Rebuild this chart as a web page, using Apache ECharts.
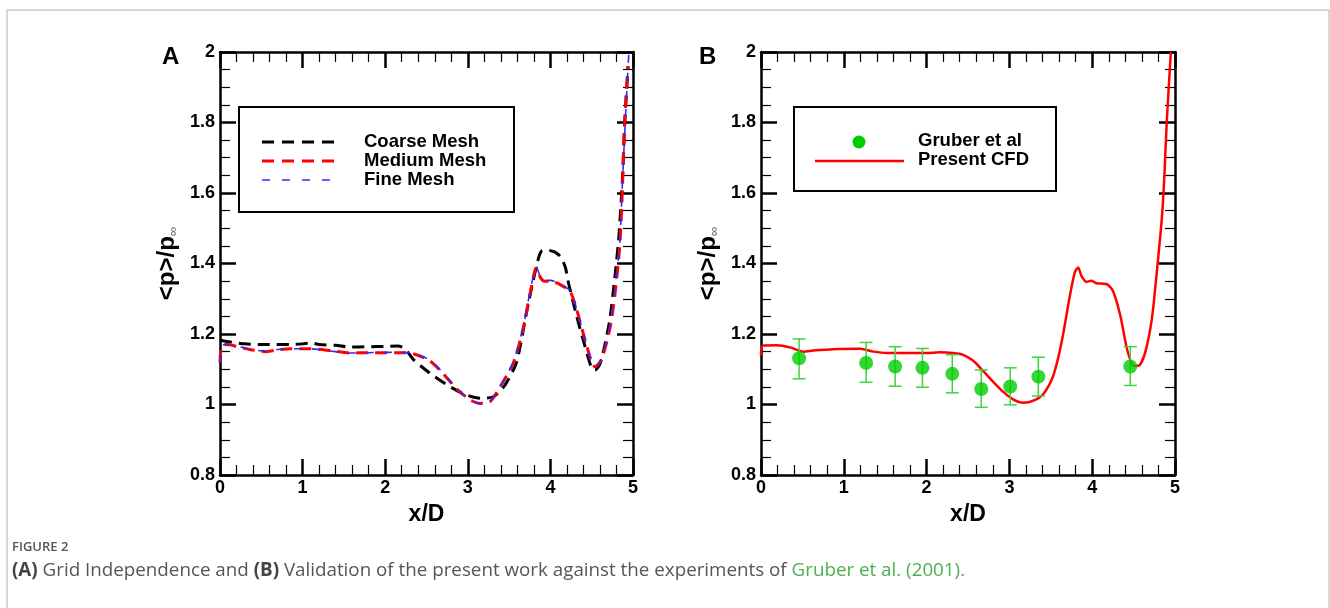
<!DOCTYPE html>
<html>
<head>
<meta charset="utf-8">
<script src="https://cdn.jsdelivr.net/npm/echarts@6/dist/echarts.min.js"></script>
<style>
html,body{margin:0;padding:0;background:#fff;}
#c{width:1330px;height:608px;}
</style>
</head>
<body>
<div id="c"></div>
<script>
// ---------- data ----------
const xTicks = [0, 1, 2, 3, 4, 5];
const yTicks = [0.8, 1, 1.2, 1.4, 1.6, 1.8, 2];

const coarseMesh = [[0,1.182],[0.1,1.178],[0.3,1.172],[0.6,1.17],[0.85,1.17],[1.0,1.172],[1.1,1.175],[1.2,1.17],[1.4,1.168],[1.57,1.163],[1.8,1.164],[2.0,1.165],[2.15,1.166],[2.24,1.158],[2.34,1.128],[2.54,1.089],[2.74,1.057],[2.95,1.03],[3.15,1.018],[3.31,1.022],[3.45,1.055],[3.59,1.12],[3.71,1.26],[3.79,1.35],[3.85,1.41],[3.89,1.435],[3.96,1.438],[4.05,1.433],[4.12,1.42],[4.18,1.39],[4.22,1.344],[4.32,1.249],[4.42,1.164],[4.5,1.103],[4.54,1.098],[4.6,1.115],[4.66,1.17],[4.72,1.242],[4.78,1.36],[4.83,1.48],[4.87,1.63],[4.9,1.80],[4.94,1.96]];

const mediumMesh = [[0,1.12],[0.02,1.165],[0.08,1.17],[0.2,1.165],[0.36,1.156],[0.56,1.15],[0.7,1.155],[0.85,1.158],[1.09,1.158],[1.33,1.153],[1.57,1.146],[1.8,1.147],[2.0,1.147],[2.2,1.147],[2.34,1.144],[2.54,1.124],[2.7,1.088],[2.87,1.043],[3.03,1.013],[3.15,1.003],[3.27,1.008],[3.39,1.05],[3.55,1.117],[3.67,1.215],[3.75,1.31],[3.83,1.388],[3.88,1.36],[3.93,1.35],[4.0,1.35],[4.12,1.34],[4.24,1.32],[4.32,1.268],[4.40,1.2],[4.48,1.135],[4.54,1.107],[4.62,1.128],[4.72,1.215],[4.78,1.31],[4.84,1.45],[4.87,1.6],[4.9,1.8],[4.94,1.96]];

const fineMesh = [[0,1.12],[0.02,1.166],[0.08,1.171],[0.2,1.166],[0.36,1.157],[0.56,1.151],[0.7,1.156],[0.85,1.158],[1.09,1.158],[1.33,1.152],[1.57,1.146],[1.8,1.147],[2.0,1.148],[2.2,1.148],[2.34,1.145],[2.54,1.126],[2.7,1.09],[2.87,1.045],[3.03,1.012],[3.15,1.002],[3.27,1.008],[3.39,1.05],[3.55,1.12],[3.67,1.22],[3.75,1.315],[3.83,1.39],[3.88,1.362],[3.93,1.352],[4.0,1.352],[4.12,1.341],[4.24,1.322],[4.32,1.27],[4.40,1.2],[4.48,1.133],[4.54,1.108],[4.62,1.13],[4.72,1.22],[4.78,1.32],[4.84,1.46],[4.87,1.62],[4.91,1.82],[4.95,2.0]];

const presentCFD = [[0,1.139],[0.02,1.167],[0.19,1.168],[0.35,1.162],[0.51,1.15],[0.63,1.153],[0.87,1.157],[1.2,1.158],[1.36,1.15],[1.52,1.146],[2.0,1.146],[2.16,1.148],[2.32,1.146],[2.44,1.141],[2.56,1.125],[2.68,1.096],[2.81,1.063],[2.93,1.035],[3.05,1.014],[3.17,1.005],[3.29,1.011],[3.41,1.03],[3.53,1.082],[3.63,1.176],[3.73,1.308],[3.79,1.375],[3.83,1.389],[3.87,1.365],[3.93,1.348],[3.99,1.351],[4.05,1.344],[4.17,1.342],[4.25,1.323],[4.34,1.252],[4.42,1.158],[4.5,1.11],[4.56,1.11],[4.64,1.148],[4.72,1.242],[4.78,1.375],[4.84,1.525],[4.87,1.64],[4.9,1.8],[4.95,2.0]];

const gruberX = [0.46, 1.27, 1.62, 1.95, 2.31, 2.66, 3.01, 3.35, 4.46];
const gruberY = [1.131, 1.118, 1.108, 1.104, 1.087, 1.044, 1.051, 1.079, 1.108];
const gruberLow = [1.073, 1.063, 1.052, 1.049, 1.033, 0.992, 0.999, 1.024, 1.054];
const gruberHigh = [1.186, 1.176, 1.164, 1.159, 1.141, 1.098, 1.104, 1.134, 1.164];

// ---------- chart ----------
const FONT = '"Liberation Sans", Arial, sans-serif';
const chart = echarts.init(document.getElementById('c'), null, {renderer: 'canvas'});

function xAx(grid, pos, labels) {
  return {
    type: 'value', gridIndex: grid, position: pos, min: xTicks[0], max: xTicks[xTicks.length - 1], interval: 1,
    axisLine: {show: true, onZero: false, lineStyle: {color: '#000', width: 2.5}},
    axisTick: {show: true, inside: true, length: 16, lineStyle: {color: '#000', width: 2.5}},
    minorTick: {show: true, splitNumber: 5, length: 10, lineStyle: {color: '#000', width: 1.2}},
    splitLine: {show: false},
    axisLabel: {show: labels, color: '#000', fontFamily: FONT, fontWeight: 'bold', fontSize: 18, margin: 4},
    name: labels ? 'x/D' : '', nameLocation: 'middle', nameGap: 28,
    nameTextStyle: {color: '#000', fontFamily: FONT, fontWeight: 'bold', fontSize: 23}
  };
}
function yAx(grid, pos, labels) {
  return {
    type: 'value', gridIndex: grid, position: pos, min: yTicks[0], max: yTicks[yTicks.length - 1], interval: 0.2,
    axisLine: {show: true, onZero: false, lineStyle: {color: '#000', width: 2.5}},
    axisTick: {show: true, inside: true, length: 16, lineStyle: {color: '#000', width: 2.5}},
    minorTick: {show: true, splitNumber: 4, length: 10, lineStyle: {color: '#000', width: 1.2}},
    splitLine: {show: false},
    axisLabel: {show: labels, color: '#000', fontFamily: FONT, fontWeight: 'bold', fontSize: 18, margin: 5,
      formatter: v => String(Math.round(v * 10) / 10)},
    name: labels ? '{m|<p>/p}{s|∞}' : '', nameLocation: 'middle', nameGap: 40,
    nameTextStyle: {
      rich: {
        m: {color: '#000', fontFamily: FONT, fontWeight: 'bold', fontSize: 24},
        s: {color: '#555', fontFamily: FONT, fontSize: 13, padding: [12, 0, 0, 0]}
      }
    }
  };
}

const dashLine = (name, data, color, width, dash, xi, yi) => ({
  name, type: 'line', xAxisIndex: xi, yAxisIndex: yi, data, showSymbol: false, symbol: 'none',
  smooth: 0.25, lineStyle: {color, width, type: dash}, z: 3
});

function legendText(x, y, t) {
  return {type: 'text', left: x, top: y - 10, z: 11,
    style: {text: t, fill: '#000', font: 'bold 18.5px ' + FONT, textVerticalAlign: 'top'}};
}

const option = {
  backgroundColor: '#fff',
  animation: false,
  grid: [
    {left: 220, top: 52, width: 413, height: 423},
    {left: 761, top: 52, width: 414, height: 423}
  ],
  xAxis: [xAx(0, 'bottom', true), xAx(0, 'top', false), xAx(1, 'bottom', true), xAx(1, 'top', false)],
  yAxis: [yAx(0, 'left', true), yAx(0, 'right', false), yAx(1, 'left', true), yAx(1, 'right', false)],
  series: [
    dashLine('Coarse Mesh', coarseMesh, '#000', 3, [12, 7], 0, 0),
    dashLine('Medium Mesh', mediumMesh, '#ff0000', 3, [12, 7], 0, 0),
    dashLine('Fine Mesh', fineMesh, '#2b2bff', 1.6, [8, 10], 0, 0),
    {
      name: 'Present CFD', type: 'line', xAxisIndex: 2, yAxisIndex: 2, data: presentCFD, showSymbol: false,
      symbol: 'none', smooth: 0.25, lineStyle: {color: '#ff0000', width: 2.5}, z: 3
    },
    {
      name: 'errors', type: 'custom', xAxisIndex: 2, yAxisIndex: 2,
      data: gruberX.map((x, i) => [x, gruberLow[i], gruberHigh[i]]),
      encode: {x: 0, y: [1, 2]},
      renderItem: function (params, api) {
        const x = api.value(0);
        const lo = api.coord([x, api.value(1)]);
        const hi = api.coord([x, api.value(2)]);
        const w = 6.5;
        const st = {stroke: '#3fd43f', lineWidth: 1.5};
        return {
          type: 'group', children: [
            {type: 'line', shape: {x1: lo[0], y1: lo[1], x2: hi[0], y2: hi[1]}, style: st},
            {type: 'line', shape: {x1: lo[0] - w, y1: lo[1], x2: lo[0] + w, y2: lo[1]}, style: st},
            {type: 'line', shape: {x1: hi[0] - w, y1: hi[1], x2: hi[0] + w, y2: hi[1]}, style: st}
          ]
        };
      }, z: 4
    },
    {
      name: 'Gruber et al', type: 'scatter', xAxisIndex: 2, yAxisIndex: 2,
      data: gruberX.map((x, i) => [x, gruberY[i]]), symbol: 'circle', symbolSize: 14,
      itemStyle: {color: '#00cc00'}, z: 5
    }
  ],
  graphic: [
    {type: 'rect', shape: {x: 7, y: 10, width: 1322, height: 700}, style: {fill: 'none', stroke: '#cccccc', lineWidth: 1.5}, z: 0},
    {type: 'text', left: 162, top: 45, style: {text: 'A', fill: '#000', font: 'bold 24px ' + FONT}},
    {type: 'text', left: 699, top: 45, style: {text: 'B', fill: '#000', font: 'bold 24px ' + FONT}},
    // legend A
    {type: 'rect', shape: {x: 239, y: 107, width: 275, height: 105}, style: {fill: '#fff', stroke: '#000', lineWidth: 2}, z: 10},
    {type: 'line', shape: {x1: 262, y1: 142, x2: 340, y2: 142}, style: {stroke: '#000', lineWidth: 3, lineDash: [12, 8]}, z: 11},
    {type: 'line', shape: {x1: 262, y1: 161, x2: 340, y2: 161}, style: {stroke: '#ff0000', lineWidth: 3, lineDash: [12, 8]}, z: 11},
    {type: 'line', shape: {x1: 262, y1: 180, x2: 340, y2: 180}, style: {stroke: '#2b2bff', lineWidth: 1.6, lineDash: [8, 12]}, z: 11},
    legendText(364, 142, 'Coarse Mesh'),
    legendText(364, 161, 'Medium Mesh'),
    legendText(364, 180, 'Fine Mesh'),
    // legend B
    {type: 'rect', shape: {x: 794, y: 107, width: 262, height: 84}, style: {fill: '#fff', stroke: '#000', lineWidth: 2}, z: 10},
    {type: 'circle', shape: {cx: 859, cy: 142, r: 6.5}, style: {fill: '#00cc00'}, z: 11},
    {type: 'line', shape: {x1: 815, y1: 161, x2: 904, y2: 161}, style: {stroke: '#ff0000', lineWidth: 2.5}, z: 11},
    legendText(918, 141, 'Gruber et al'),
    legendText(918, 160, 'Present CFD'),
    // caption
    {type: 'text', left: 12, top: 541, style: {text: 'FIGURE 2', fill: '#555', font: '600 13px "Open Sans", sans-serif'}},
    {type: 'text', left: 12, top: 561, style: {
      text: '{b|(A)} Grid Independence and {b|(B)} Validation of the present work against the experiments of {g|Gruber et al. (2001).}',
      font: '18.8px "Open Sans", sans-serif', fill: '#555',
      rich: {
        b: {fontWeight: 'bold', fontSize: 18.8, fontFamily: '"Open Sans", sans-serif', fill: '#444'},
        g: {fontSize: 18.8, fontFamily: '"Open Sans", sans-serif', fill: '#4caf50'}
      }
    }}
  ]
};
chart.setOption(option);
</script>
</body>
</html>
